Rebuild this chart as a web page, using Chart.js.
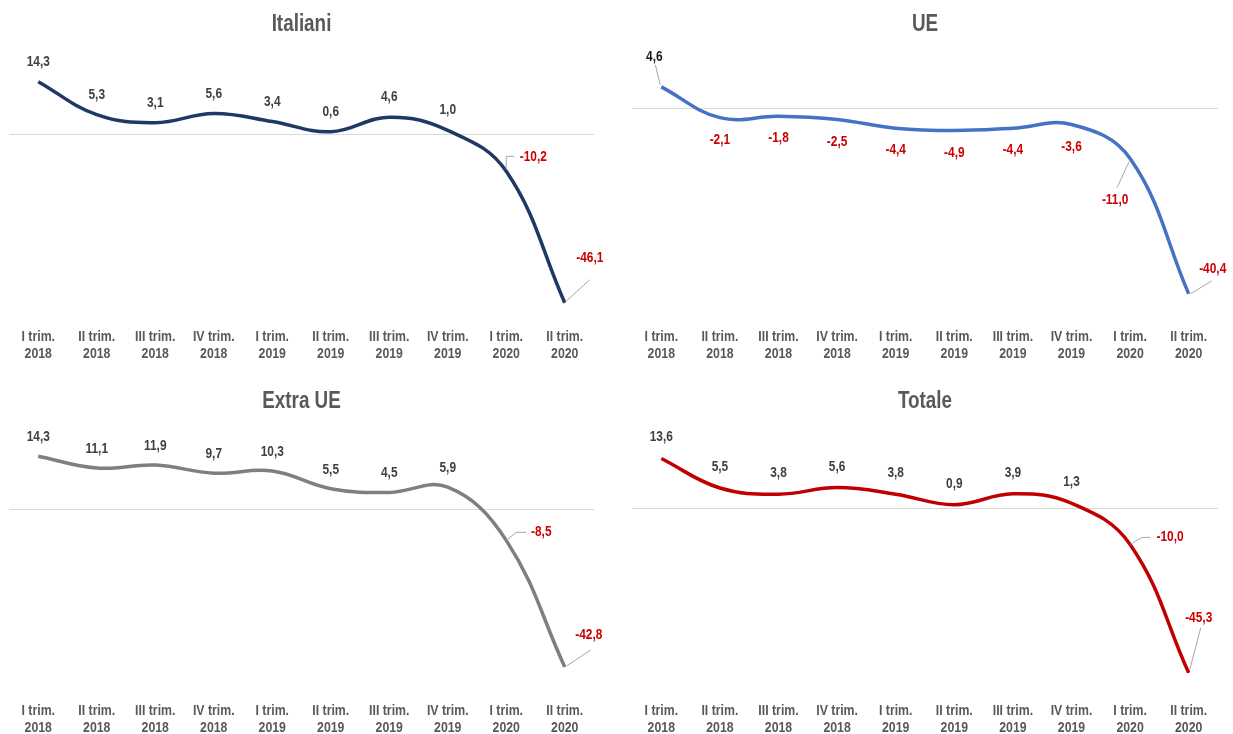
<!DOCTYPE html>
<html>
<head>
<meta charset="utf-8">
<script src="https://cdn.jsdelivr.net/npm/chart.js@4.4.0/dist/chart.umd.min.js"></script>
<style>
  html, body { margin: 0; padding: 0; background: #fff; overflow: hidden; }
  #wrap { position: relative; width: 1233px; height: 734px; overflow: hidden; }
  canvas { position: absolute; }
</style>
</head>
<body>
<div id="wrap">
  <canvas id="cItaliani" width="615" height="372" style="left:0;top:0"></canvas>
  <canvas id="cUe" width="618" height="372" style="left:615px;top:0"></canvas>
  <canvas id="cExtraUe" width="615" height="369" style="left:0;top:376px"></canvas>
  <canvas id="cTotale" width="618" height="369" style="left:615px;top:376px"></canvas>
</div>
<script>
const trimestri = [
  ['I trim.', '2018'], ['II trim.', '2018'], ['III trim.', '2018'], ['IV trim.', '2018'],
  ['I trim.', '2019'], ['II trim.', '2019'], ['III trim.', '2019'], ['IV trim.', '2019'],
  ['I trim.', '2020'], ['II trim.', '2020']
];

const italiani = [14.3, 5.3, 3.1, 5.6, 3.4, 0.6, 4.6, 1.0, -10.2, -46.1];
const ue = [4.6, -2.1, -1.8, -2.5, -4.4, -4.9, -4.4, -3.6, -11.0, -40.4];
const extraUe = [14.3, 11.1, 11.9, 9.7, 10.3, 5.5, 4.5, 5.9, -8.5, -42.8];
const totale = [13.6, 5.5, 3.8, 5.6, 3.8, 0.9, 3.9, 1.3, -10.0, -45.3];

// niente Arial Narrow: Liberation Sans bold schiacciata in orizzontale
const FONT = "'Liberation Sans', Arial, sans-serif";
const STRETTO = 0.82;
const GRIGIO_TESTO = '#595959';
const ROSSO = '#cc0000';

function formatta(v) {
  return v.toFixed(1).replace('.', ',');
}

function testoStretto(ctx, testo, x, y) {
  ctx.save();
  ctx.translate(x, y);
  ctx.scale(STRETTO, 1);
  ctx.fillText(testo, 0, 0);
  ctx.restore();
}

// titolo, etichette asse x, valori e linea dello zero
function creaPluginEtichette(titolo, stile) {
  return {
    id: 'etichette',
    beforeDatasetsDraw(chart) {
      const ctx = chart.ctx;
      const area = chart.chartArea;
      const y0 = Math.round(chart.scales.y.getPixelForValue(0)) + 0.5;
      ctx.save();
      ctx.strokeStyle = '#d9d9d9';
      ctx.lineWidth = 1;
      ctx.beginPath();
      ctx.moveTo(area.left, y0);
      ctx.lineTo(area.right, y0);
      ctx.stroke();
      ctx.restore();
    },
    afterDatasetsDraw(chart) {
      const ctx = chart.ctx;
      const meta = chart.getDatasetMeta(0);
      const valori = chart.data.datasets[0].data;
      ctx.save();
      ctx.font = 'bold 14.5px ' + FONT;
      ctx.textAlign = 'center';
      ctx.textBaseline = 'middle';
      meta.data.forEach((pt, i) => {
        const v = valori[i];
        const speciale = stile.speciali[i];
        let dx = 0;
        let dy = v >= 0 ? stile.sopra : stile.sotto;
        if (speciale) {
          dx = speciale.dx;
          dy = speciale.dy;
          ctx.strokeStyle = '#a6a6a6';
          ctx.lineWidth = 1;
          ctx.beginPath();
          speciale.guida.forEach(([gx, gy], k) => {
            if (k === 0) ctx.moveTo(pt.x + gx, pt.y + gy);
            else ctx.lineTo(pt.x + gx, pt.y + gy);
          });
          ctx.stroke();
        }
        ctx.fillStyle = v >= 0 ? stile.colorePositivo : ROSSO;
        testoStretto(ctx, formatta(v), pt.x + dx, pt.y + dy);
      });
      ctx.restore();
    },
    afterDraw(chart) {
      const ctx = chart.ctx;
      const area = chart.chartArea;
      const x = chart.scales.x;
      ctx.save();
      ctx.fillStyle = GRIGIO_TESTO;
      ctx.textAlign = 'center';
      ctx.textBaseline = 'middle';
      ctx.font = 'bold 23px ' + FONT;
      testoStretto(ctx, titolo, (area.left + area.right) / 2, stile.titoloY);
      ctx.font = 'bold 15px ' + FONT;
      x.ticks.forEach((t, i) => {
        const righe = chart.data.labels[t.value];
        const px = x.getPixelForTick(i);
        righe.forEach((riga, r) => testoStretto(ctx, riga, px, stile.tickY + r * 16.5));
      });
      ctx.restore();
    }
  };
}

function creaGrafico(id, titolo, valori, colore, stile) {
  const chart = new Chart(document.getElementById(id), {
    type: 'line',
    data: {
      labels: trimestri,
      datasets: [{
        data: valori,
        borderColor: colore,
        borderWidth: 3.5,
        tension: 0.4,
        pointRadius: 0,
        fill: false
      }]
    },
    options: {
      responsive: false,
      animation: false,
      layout: { padding: stile.padding },
      plugins: {
        legend: { display: false },
        tooltip: { enabled: false },
        title: { display: false }
      },
      scales: {
        x: {
          offset: true,
          grid: { display: false },
          border: { display: false },
          ticks: { display: false, autoSkip: false, maxRotation: 0 }
        },
        y: { display: false, min: -50, max: 20 }
      }
    },
    plugins: [creaPluginEtichette(titolo, stile)]
  });
  // fissa la posizione dello zero e la scala verticale come nel riferimento
  const a = chart.chartArea;
  chart.options.scales.y.max = (stile.zeroY - a.top) / stile.pxUnita;
  chart.options.scales.y.min = -(a.bottom - stile.zeroY) / stile.pxUnita;
  chart.update('none');
  return chart;
}

creaGrafico('cItaliani', 'Italiani', italiani, '#1f3864', {
  padding: { left: 9, right: 21, top: 45, bottom: 52 },
  titoloY: 25, tickY: 337, zeroY: 134, pxUnita: 3.66,
  sopra: -20, sotto: 22, colorePositivo: '#404040',
  speciali: {
    8: { dx: 27, dy: -14, guida: [[0, -2], [0, -15], [8, -15]] },
    9: { dx: 25, dy: -45, guida: [[2, -2], [25, -23]] }
  }
});

creaGrafico('cUe', 'UE', ue, '#4472c4', {
  padding: { left: 17, right: 15, top: 45, bottom: 52 },
  titoloY: 25, tickY: 337, zeroY: 108, pxUnita: 4.6,
  sopra: -20, sotto: 22, colorePositivo: '#1a1a1a',
  speciali: {
    0: { dx: -7, dy: -30, guida: [[-1, -2], [-6, -22]] },
    8: { dx: -15, dy: 41, guida: [[-1, 3], [-13, 29]] },
    9: { dx: 24, dy: -25, guida: [[2, 0], [23, -13]] }
  }
});

creaGrafico('cExtraUe', 'Extra UE', extraUe, '#7f7f7f', {
  padding: { left: 9, right: 21, top: 45, bottom: 50 },
  titoloY: 26, tickY: 335, zeroY: 133, pxUnita: 3.69,
  sopra: -19, sotto: 22, colorePositivo: '#404040',
  speciali: {
    8: { dx: 35, dy: -8, guida: [[0, 0], [10, -8], [20, -8]] },
    9: { dx: 24, dy: -32, guida: [[2, -1], [26, -17]] }
  }
});

creaGrafico('cTotale', 'Totale', totale, '#c00000', {
  padding: { left: 17, right: 15, top: 45, bottom: 50 },
  titoloY: 26, tickY: 335, zeroY: 132, pxUnita: 3.64,
  sopra: -21, sotto: 22, colorePositivo: '#404040',
  speciali: {
    8: { dx: 40, dy: -7, guida: [[0, 0], [12, -7], [20, -7]] },
    9: { dx: 10, dy: -55, guida: [[1, -3], [12, -45]] }
  }
});
</script>
</body>
</html>
